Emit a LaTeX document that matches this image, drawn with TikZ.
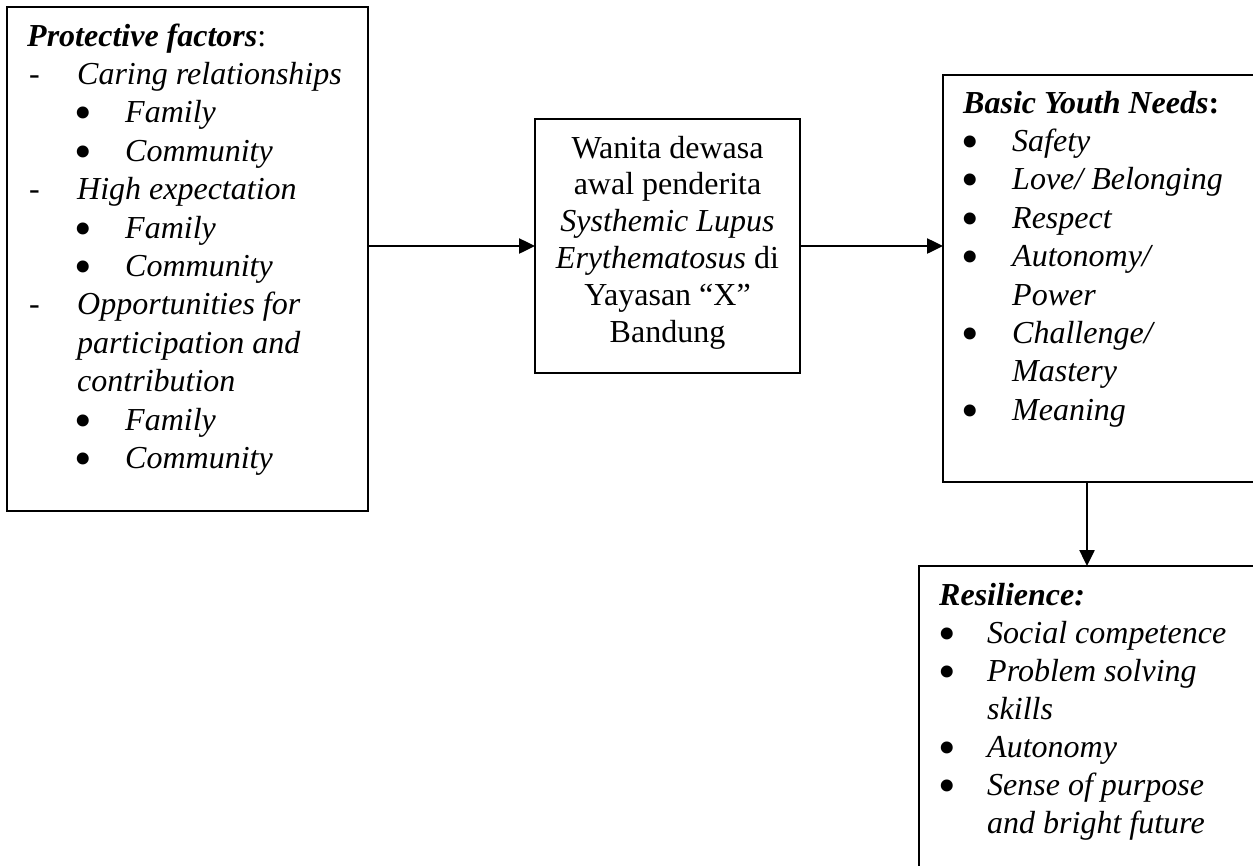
\documentclass[tikz,border=0pt]{standalone}
\usepackage{fontspec}
\setmainfont{Liberation Serif}
\usetikzlibrary{arrows.meta}
\tikzset{
  box/.style={draw=black, line width=1.9pt, inner sep=0pt, outer sep=0pt, anchor=north west},
  txt/.style={anchor=base west, inner sep=0pt, font=\fontsize{32}{38}\selectfont},
  ctxt/.style={anchor=base, inner sep=0pt, font=\fontsize{32}{38}\selectfont},
  conn/.style={line width=2.5pt, -{Triangle[length=16pt,width=15pt]}}
}
\newcommand{\bigbul}{\hspace*{-3.2pt}\smash{\raisebox{-7pt}{\fontsize{50}{38}\selectfont •}}}
\newcommand{\dashitem}[1]{\makebox[48pt][l]{-}\textit{#1}}
\newcommand{\bulitem}[2][48pt]{\makebox[#1][l]{\bigbul}\textit{#2}}
\begin{document}
\begin{tikzpicture}[x=1pt,y=-1pt]
\useasboundingbox (0,0) rectangle (1253,865);
\clip (0,0) rectangle (1253,865);
% boxes
\node[box, minimum width=361pt, minimum height=504pt] (pf) at (7,7) {};
\node[box, minimum width=265pt, minimum height=254pt] (mid) at (535,119) {};
\node[box, minimum width=330pt, minimum height=407pt] (needs) at (943,75) {};
\node[box, minimum width=350pt, minimum height=320pt] (res) at (919,566) {};
% protective factors
\node[txt] (pf0) at (27,46) {\textbf{\textit{Protective factors}}:};
\node[txt] (pf1) at (29,84.4) {\dashitem{Caring relationships}};
\node[txt] (pf2) at (77,122.8) {\bulitem{Family}};
\node[txt] (pf3) at (77,161.2) {\bulitem{Community}};
\node[txt] (pf4) at (29,199.6) {\dashitem{High expectation}};
\node[txt] (pf5) at (77,238) {\bulitem{Family}};
\node[txt] (pf6) at (77,276.4) {\bulitem{Community}};
\node[txt] (pf7) at (29,314.8) {\dashitem{Opportunities for}};
\node[txt] (pf8) at (77,353.2) {\textit{participation and}};
\node[txt] (pf9) at (77,391.6) {\textit{contribution}};
\node[txt] (pf10) at (77,430) {\bulitem{Family}};
\node[txt] (pf11) at (77,468.4) {\bulitem{Community}};
% middle
\node[ctxt] (m1) at (667.5,158) {Wanita dewasa};
\node[ctxt] (m2) at (667.5,194.8) {awal penderita};
\node[ctxt] (m3) at (667.5,231.6) {\textit{Systhemic Lupus}};
\node[ctxt] (m4) at (667.5,268.4) {\textit{Erythematosus} di};
\node[ctxt] (m5) at (667.5,305.2) {Yayasan “X”};
\node[ctxt] (m6) at (667.5,342) {Bandung};
% basic youth needs
\node[txt] (n0) at (963,113) {\textbf{\textit{Basic Youth Needs}:}};
\node[txt] (n1) at (964,151.4) {\bulitem{Safety}};
\node[txt] (n2) at (964,189.8) {\bulitem{Love/ Belonging}};
\node[txt] (n3) at (964,228.2) {\bulitem{Respect}};
\node[txt] (n4) at (964,266.6) {\bulitem{Autonomy/}};
\node[txt] (n5) at (1012,305) {\textit{Power}};
\node[txt] (n6) at (964,343.4) {\bulitem{Challenge/}};
\node[txt] (n7) at (1012,381.8) {\textit{Mastery}};
\node[txt] (n8) at (964,420.2) {\bulitem{Meaning}};
% resilience
\node[txt] (r0) at (939,605) {\textbf{\textit{Resilience:}}};
\node[txt] (r1) at (941,643) {\bulitem[46pt]{Social competence}};
\node[txt] (r2) at (941,681) {\bulitem[46pt]{Problem solving}};
\node[txt] (r3) at (987,719) {\textit{skills}};
\node[txt] (r4) at (941,757) {\bulitem[46pt]{Autonomy}};
\node[txt] (r5) at (941,795) {\bulitem[46pt]{Sense of purpose}};
\node[txt] (r6) at (987,833) {\textit{and bright future}};
% connectors
\coordinate (ax) at (1087,0);
\draw[conn] (pf.east |- mid.west) -- (mid.west);
\draw[conn] (mid.east) -- (needs.west |- mid.east);
\draw[conn] (needs.south -| ax) -- (res.north -| ax);
\end{tikzpicture}
\end{document}
